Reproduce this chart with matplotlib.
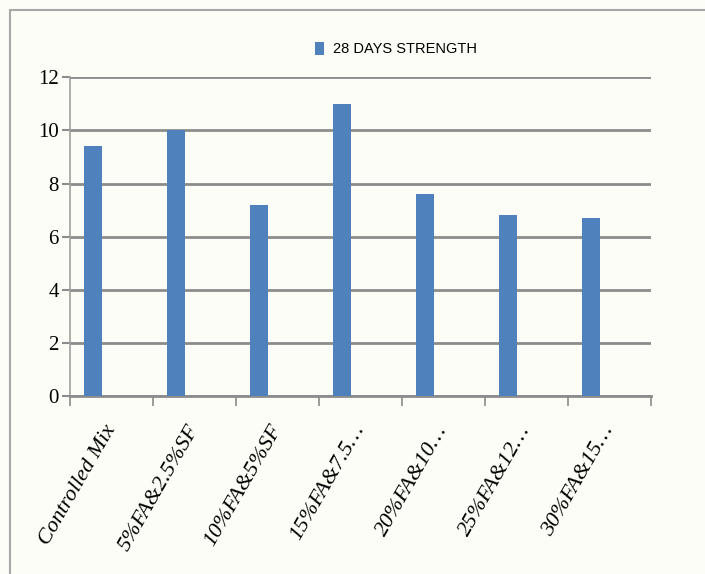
import matplotlib
matplotlib.use('Agg')
import matplotlib.pyplot as plt
from matplotlib import font_manager
from matplotlib.patches import Rectangle

bar_color = '#4f81bd'
grid_color = '#8c8c8c'
bg = '#fdfdf7'

# data
mixes = ['Controlled Mix', '5%FA&2.5%SF', '10%FA&5%SF', '15%FA&7.5…',
         '20%FA&10…', '25%FA&12…', '30%FA&15…']
strength_28d = [9.4, 10.0, 7.2, 11.0, 7.6, 6.8, 6.7]
yticks = [0, 2, 4, 6, 8, 10, 12]

# narrow sans for the legend if we have one
names = {f.name for f in font_manager.fontManager.ttflist}
if 'Liberation Sans Narrow' in names:
    leg_font = {'family': ['Liberation Sans Narrow', 'DejaVu Sans'], 'size': 12.5}
else:
    leg_font = {'family': ['Liberation Sans', 'DejaVu Sans'], 'size': 10.5}

fig = plt.figure(figsize=(7.05, 5.74), dpi=100, facecolor=bg)
ax = fig.add_axes([0.0993, 0.310, 0.8241, 0.5553])
ax.set_facecolor(bg)

x = list(range(len(mixes)))
# excel leaves the bar left of the category centre
ax.bar([i - 0.22 for i in x], strength_28d, width=0.22, color=bar_color,
       label='28 DAYS STRENGTH', zorder=3)

ax.set_xlim(-0.5, len(mixes) - 0.5)
ax.set_ylim(0, 12)
ax.set_yticks(yticks)
ax.set_yticklabels([str(v) for v in yticks], family=['Liberation Serif'], fontsize=15)
ax.yaxis.grid(True, color=grid_color, linewidth=2, zorder=0)
ax.tick_params(axis='y', length=6, width=1.5, color=grid_color, pad=2)

# category boundaries carry the x tick marks
ax.set_xticks([i - 0.5 for i in range(len(mixes) + 1)])
ax.set_xticklabels([])
ax.tick_params(axis='x', which='major', length=7, width=1.2, color=grid_color)
ax.set_xticks(x, minor=True)
ax.set_xticklabels(mixes, minor=True, rotation=60, ha='right', va='center',
                   rotation_mode='anchor', family=['Liberation Serif'],
                   style='italic', fontsize=16)
ax.tick_params(axis='x', which='minor', length=0, pad=22)

for side in ['top', 'right']:
    ax.spines[side].set_visible(False)
ax.spines['left'].set_color('#a0a0a0')
ax.spines['left'].set_linewidth(1.2)
ax.spines['bottom'].set_color(grid_color)
ax.spines['bottom'].set_linewidth(2)

fig.legend(loc='center', bbox_to_anchor=(396 / 705, 1 - 49 / 574), frameon=False,
           handlelength=0.6, handleheight=1.0, handletextpad=0.6, prop=leg_font)

# outer frame of the chart area
fig.patches.append(Rectangle((10 / 705, -0.1), 1.2, 1 - 10 / 574 + 0.1,
                             transform=fig.transFigure, fill=False,
                             edgecolor='#a8a8a8', linewidth=1.5))

fig.savefig('out.png', dpi=100, facecolor=bg)
